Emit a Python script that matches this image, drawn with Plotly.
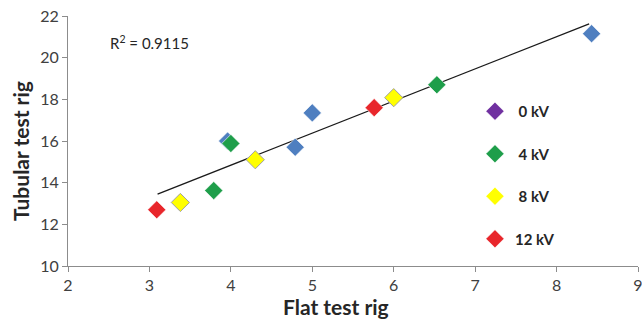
import plotly.graph_objects as go

# Data
kv0_x = [3.96, 4.79, 5.0, 8.43]
kv0_y = [16.0, 15.7, 17.35, 21.15]
kv4_x = [3.79, 4.0, 6.53]
kv4_y = [13.62, 15.88, 18.7]
kv8_x = [3.38, 4.3, 6.0]
kv8_y = [13.05, 15.1, 18.08]
kv12_x = [3.09, 5.76]
kv12_y = [12.7, 17.6]
trend_x = [3.1, 8.4]
trend_y = [13.45, 21.62]
series_names = ["\u00a00 kV", "\u00a04 kV", "\u00a08 kV", "12 kV"]
legend_colors = ["#7030a0", "#1e9e4a", "#ffff00", "#e8262b"]
point_colors = ["#4f7fc0", "#1e9e4a", "#ffff00", "#e8262b"]
x_ticks = [2, 3, 4, 5, 6, 7, 8, 9]
y_ticks = [10, 12, 14, 16, 18, 20, 22]
r2_text = "R<sup>2</sup> = 0.9115"
x_title = "<b>Flat test rig</b>"
y_title = "<b>Tubular test rig</b>"

FONT = "Lato, Carlito, 'Liberation Sans', sans-serif"

fig = go.Figure()

fig.add_trace(go.Scatter(x=trend_x, y=trend_y, mode="lines",
                         line=dict(color="#1a1a1a", width=1.3),
                         showlegend=False, hoverinfo="skip"))

data = [(kv0_x, kv0_y), (kv4_x, kv4_y), (kv8_x, kv8_y), (kv12_x, kv12_y)]
for i, (xs, ys) in enumerate(data):
    outline = "#a0a0a0" if i == 2 else "rgba(255,255,255,0.6)"
    fig.add_trace(go.Scatter(x=xs, y=ys, mode="markers",
                             marker=dict(symbol="diamond", size=14, color=point_colors[i],
                                         line=dict(color=outline, width=1)),
                             showlegend=False, name=series_names[i]))

# legend entries (legend marker colours differ from point colours in the reference)
for i, name in enumerate(series_names):
    fig.add_trace(go.Scatter(x=[None], y=[None], mode="markers", name=name,
                             legendgroup=f"g{i}",
                             marker=dict(symbol="diamond", size=14, color=legend_colors[i],
                                         line=dict(color="rgba(255,255,255,0.6)", width=1))))

fig.add_annotation(x=2.49, y=20.75, xref="x", yref="y", text=r2_text, showarrow=False,
                   xanchor="left", yanchor="middle",
                   font=dict(family=FONT, size=15, color="#262626"))

# axis titles (placed as in the reference, slightly off-centre)
fig.add_annotation(x=0.47, y=-0.16, xref="paper", yref="paper", text=x_title, showarrow=False,
                   xanchor="center", yanchor="middle",
                   font=dict(family=FONT, size=21, color="#262626"))
fig.add_annotation(x=-0.084, y=0.46, xref="paper", yref="paper", text=y_title, showarrow=False,
                   textangle=-90, xanchor="center", yanchor="middle",
                   font=dict(family=FONT, size=21, color="#262626"))

axis_common = dict(showline=True, linecolor="#8c8c8c", linewidth=1.2, ticks="outside",
                   ticklen=5, tickcolor="#8c8c8c", showgrid=False, zeroline=False,
                   automargin=False, ticklabeloverflow="allow",
                   tickfont=dict(family=FONT, size=16, color="#404040"))

fig.update_layout(
    width=642, height=320,
    margin=dict(l=68, r=4, t=16, b=54),
    paper_bgcolor="white", plot_bgcolor="white",
    xaxis=dict(range=[2, 9], tickvals=x_ticks, **axis_common),
    yaxis=dict(range=[10, 22], tickvals=y_ticks, **axis_common),
    legend=dict(x=0.714, y=0.684, xanchor="left", yanchor="top",
                font=dict(family=FONT, size=15, color="#262626", weight="bold"),
                tracegroupgap=20, bgcolor="rgba(0,0,0,0)"),
    showlegend=True,
)

# remove the default 8px page margin so the 642x320 figure fills the window exactly
fig.write_html("out.html", config={"displayModeBar": False},
               post_script="document.body.style.margin='0';document.body.style.overflow='hidden';")
